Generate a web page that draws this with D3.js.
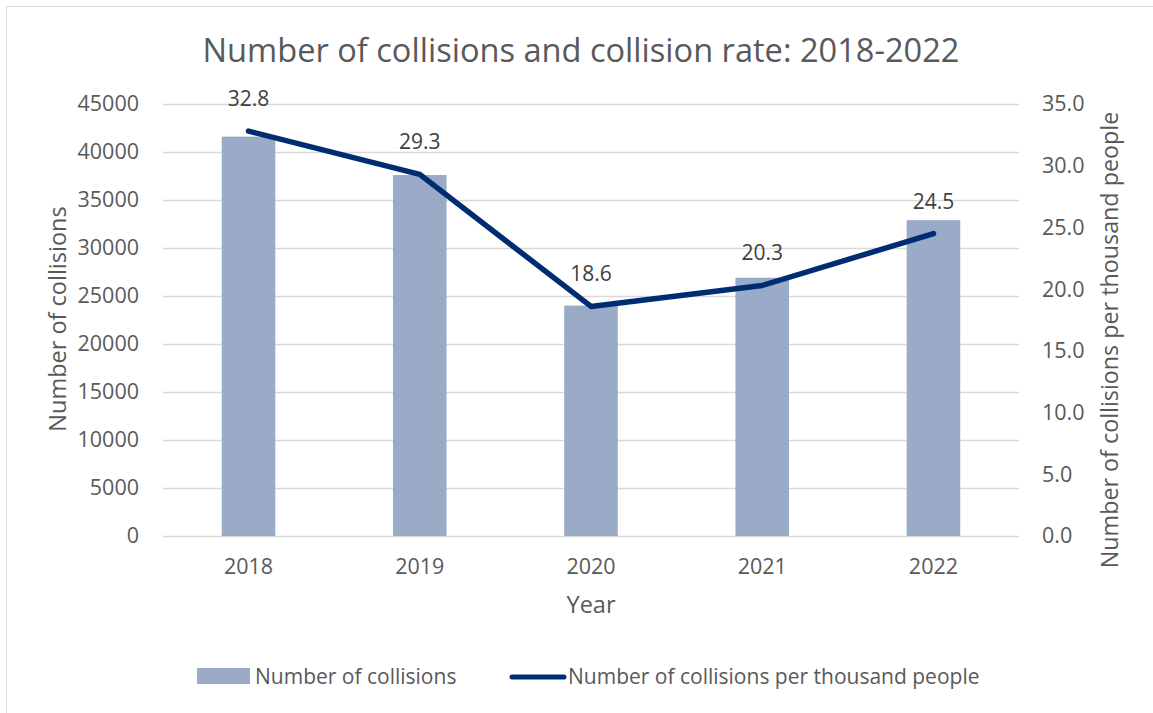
<!DOCTYPE html>
<html>
<head>
<meta charset="utf-8">
<script src="https://cdn.jsdelivr.net/npm/d3@7"></script>
<style>
  body { margin: 0; background: #fff; }
  svg { display: block; font-family: "Open Sans", sans-serif; }
</style>
</head>
<body>
<script>
// chart data
var years = ["2018", "2019", "2020", "2021", "2022"];
var collisions = [41600, 37600, 24000, 26900, 32900];
var ratePerThousand = [32.8, 29.3, 18.6, 20.3, 24.5];
var leftTicks = [0, 5000, 10000, 15000, 20000, 25000, 30000, 35000, 40000, 45000];
var rightTicks = [0, 5, 10, 15, 20, 25, 30, 35];

var width = 1153,
  height = 713;
var plotLeft = 163, plotRight = 1019, plotTop = 104, plotBottom = 536;

var svg = d3.select("body").append("svg")
  .attr("width", width)
  .attr("height", height);

// chart border
svg.append("rect")
  .attr("x", 6.5).attr("y", 6.5)
  .attr("width", width + 20).attr("height", height + 20)
  .attr("fill", "none").attr("stroke", "#d9d9d9");

var x = d3.scaleBand().domain(years).range([plotLeft, plotRight]).paddingInner(0.687).paddingOuter(0.343);
var yLeft = d3.scaleLinear().domain([0, 45000]).range([plotBottom, plotTop]);
var yRight = d3.scaleLinear().domain([0, 35]).range([plotBottom, plotTop]);

// gridlines
svg.append("g").selectAll("line")
  .data(leftTicks)
  .enter().append("line")
  .attr("x1", plotLeft).attr("x2", plotRight)
  .attr("y1", d => Math.round(yLeft(d)) + 0.5)
  .attr("y2", d => Math.round(yLeft(d)) + 0.5)
  .attr("stroke", "#d9d9d9").attr("stroke-width", 1.5);

var leftAxis = svg.append("g")
  .attr("transform", "translate(" + (plotLeft - 24) + ",0)")
  .call(d3.axisLeft(yLeft).tickValues(leftTicks).tickFormat(d3.format("d")).tickSize(0).tickPadding(0));
leftAxis.select(".domain").remove();
leftAxis.selectAll("text").attr("font-size", 21.5).attr("fill", "#595959").attr("font-family", "Open Sans");

var rightAxis = svg.append("g")
  .attr("transform", "translate(" + (plotRight + 23) + ",0)")
  .call(d3.axisRight(yRight).tickValues(rightTicks).tickFormat(d3.format(".1f")).tickSize(0).tickPadding(0));
rightAxis.select(".domain").remove();
rightAxis.selectAll("text").attr("font-size", 21.5).attr("fill", "#595959").attr("font-family", "Open Sans");

var bottomAxis = svg.append("g")
  .attr("transform", "translate(0," + plotBottom + ")")
  .call(d3.axisBottom(x).tickSize(0).tickPadding(23));
bottomAxis.select(".domain").remove();
bottomAxis.selectAll("text").attr("font-size", 21.5).attr("fill", "#595959").attr("font-family", "Open Sans");

// bars
svg.append("g").selectAll("rect")
  .data(collisions)
  .enter().append("rect")
  .attr("x", (d, i) => x(years[i]))
  .attr("y", d => yLeft(d))
  .attr("width", x.bandwidth())
  .attr("height", d => plotBottom - yLeft(d))
  .attr("fill", "#9aabc7");

// line
var line = d3.line()
  .x((d, i) => x(years[i]) + x.bandwidth() / 2)
  .y(d => yRight(d));
svg.append("path")
  .datum(ratePerThousand)
  .attr("d", line)
  .attr("fill", "none")
  .attr("stroke", "#002d72")
  .attr("stroke-width", 5.5)
  .attr("stroke-linecap", "round")
  .attr("stroke-linejoin", "round");

// data labels
svg.append("g").selectAll("text")
  .data(ratePerThousand)
  .enter().append("text")
  .attr("x", (d, i) => x(years[i]) + x.bandwidth() / 2)
  .attr("y", d => yRight(d) - 25)
  .attr("text-anchor", "middle")
  .attr("font-size", 21)
  .attr("fill", "#404040")
  .text(d => d.toFixed(1));

// title
svg.append("text")
  .attr("x", 581).attr("y", 62)
  .attr("text-anchor", "middle")
  .attr("font-size", 32.6)
  .attr("fill", "#595959")
  .text("Number of collisions and collision rate: 2018-2022");

// axis titles
svg.append("text")
  .attr("transform", "translate(66,319) rotate(-90)")
  .attr("text-anchor", "middle")
  .attr("font-size", 23.5)
  .attr("fill", "#595959")
  .text("Number of collisions");

svg.append("text")
  .attr("transform", "translate(1118,340) rotate(-90)")
  .attr("text-anchor", "middle")
  .attr("font-size", 23.3)
  .attr("fill", "#595959")
  .text("Number of collisions per thousand people");

svg.append("text")
  .attr("x", 591).attr("y", 613)
  .attr("text-anchor", "middle")
  .attr("font-size", 23.5)
  .attr("fill", "#595959")
  .text("Year");

// legend
var legend = svg.append("g");
legend.append("rect")
  .attr("x", 197).attr("y", 668)
  .attr("width", 53).attr("height", 16)
  .attr("fill", "#9aabc7");
legend.append("text")
  .attr("x", 255).attr("y", 684)
  .attr("font-size", 21).attr("fill", "#595959")
  .text("Number of collisions");
legend.append("line")
  .attr("x1", 512).attr("x2", 564)
  .attr("y1", 677).attr("y2", 677)
  .attr("stroke", "#002d72").attr("stroke-width", 5)
  .attr("stroke-linecap", "round");
legend.append("text")
  .attr("x", 568).attr("y", 684)
  .attr("font-size", 21).attr("fill", "#595959")
  .text("Number of collisions per thousand people");
</script>
</body>
</html>
